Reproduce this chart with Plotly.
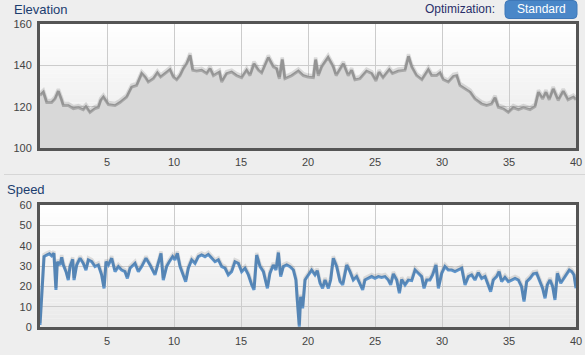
import plotly.graph_objects as go

# ---------------- data ----------------
elev_km = [0.0, 0.25, 0.5, 0.87, 1.12, 1.37, 1.62, 1.74, 2.11, 2.49, 2.86, 3.23, 3.43, 3.73, 4.10, 4.35,
           4.53, 4.73, 5.10, 5.60, 5.97, 6.47, 6.84, 7.21, 7.59, 7.84, 8.08, 8.46, 8.76, 9.00, 9.33, 9.70,
           9.95, 10.2, 10.45, 10.7, 10.95, 11.2, 11.4, 11.69, 12.06, 12.44, 12.69, 12.94, 13.39, 13.56,
           13.93, 14.3, 14.68, 15.05, 15.42, 15.67, 15.97, 16.3, 16.54, 17.04, 17.41, 17.66, 17.86, 18.08,
           18.28, 18.78, 19.28, 19.65, 20.0, 20.4, 20.57, 20.77, 21.02, 21.5, 21.89, 22.1, 22.64, 23.0,
           23.26, 23.5, 23.88, 24.37, 24.75, 25.07, 25.3, 25.6, 26.07, 26.3, 26.74, 27.24, 27.5, 27.74,
           28.1, 28.5, 28.98, 29.23, 29.6, 29.85, 30.1, 30.47, 30.85, 31.1, 31.34, 31.71, 32.1, 32.46,
           32.96, 33.33, 33.7, 33.96, 34.2, 34.58, 34.95, 35.32, 35.7, 36.07, 36.57, 36.94, 37.2, 37.51,
           37.76, 38.0, 38.3, 38.67, 39.05, 39.4, 39.8, 40.0]
elev_m = [125.4, 127.0, 122.0, 122.0, 123.7, 127.5, 123.0, 120.5, 120.5, 119.0, 119.5, 118.5, 120.0, 117.2,
          119.0, 119.5, 123.0, 124.6, 121.0, 120.5, 122.0, 124.6, 129.4, 130.2, 136.0, 134.3, 131.9, 133.5,
          136.3, 134.3, 136.0, 137.9, 134.3, 133.0, 135.0, 138.4, 140.8, 144.9, 137.6, 137.2, 137.6, 136.0,
          138.4, 135.0, 136.7, 131.9, 136.0, 136.7, 135.0, 134.0, 137.6, 135.0, 140.8, 137.6, 136.3, 143.8,
          139.2, 138.4, 133.5, 142.8, 133.5, 135.0, 137.2, 135.0, 134.3, 134.0, 142.8, 135.0, 139.2, 143.8,
          139.2, 135.0, 140.8, 135.0, 137.6, 133.0, 133.5, 137.2, 136.0, 132.4, 136.7, 134.0, 137.9, 136.0,
          137.2, 137.6, 144.4, 139.2, 135.0, 133.0, 137.9, 135.0, 135.0, 136.3, 133.0, 131.9, 134.6, 135.0,
          130.2, 128.6, 127.0, 123.7, 121.3, 120.5, 121.3, 124.3, 119.7, 118.9, 117.2, 119.5, 118.5, 119.5,
          118.5, 120.0, 127.0, 123.7, 127.0, 123.3, 128.6, 123.0, 127.5, 123.3, 124.6, 123.3]

speed_km = [0.0, 0.12, 0.30, 0.50, 0.70, 0.87, 1.04, 1.19, 1.29, 1.49, 1.62, 1.74, 1.94, 2.11, 2.24,
            2.44, 2.54, 2.74, 2.99, 3.23, 3.43, 3.61, 3.86, 4.10, 4.35, 4.60, 4.78, 4.93, 5.10, 5.35,
            5.60, 5.85, 6.09, 6.34, 6.52, 6.72, 7.09, 7.34, 7.59, 7.91, 8.21, 8.58, 8.83, 9.03, 9.20,
            9.45, 9.65, 9.90, 10.07, 10.25, 10.45, 10.70, 10.87, 11.07, 11.32, 11.57, 11.82, 12.06, 12.31,
            12.56, 12.81, 13.06, 13.31, 13.56, 13.81, 14.05, 14.30, 14.55, 14.80, 15.05, 15.30, 15.55,
            15.80, 15.97, 16.17, 16.42, 16.67, 16.97, 17.16, 17.41, 17.61, 17.79, 17.96, 18.16, 18.41,
            18.66, 18.91, 19.10, 19.20, 19.35, 19.45, 19.60, 19.78,
            20.02, 20.27, 20.52, 20.69, 20.90, 21.09, 21.27, 21.52, 21.69, 21.89, 22.14, 22.39, 22.59,
            22.89, 23.13, 23.38, 23.63, 23.88, 24.08, 24.25, 24.50, 24.75, 25.00, 25.25, 25.49, 25.74,
            25.99, 26.17, 26.37, 26.62, 26.82, 26.99, 27.24, 27.49, 27.74, 27.99, 28.23, 28.48, 28.66,
            28.86, 29.10, 29.30, 29.55, 29.73, 29.98, 30.22, 30.47, 30.72, 30.97, 31.22, 31.47, 31.72,
            31.97, 32.21, 32.46, 32.71, 32.96, 33.21, 33.46, 33.63, 33.83, 34.08, 34.26, 34.45, 34.70,
            34.95, 35.20, 35.45, 35.70, 35.94, 36.12, 36.32, 36.57, 36.82, 37.06, 37.31, 37.51, 37.69,
            37.86, 38.06, 38.26, 38.43, 38.61, 38.86, 39.10, 39.30, 39.50, 39.68, 39.85, 40.0]
speed_kmh = [1.0, 13.0, 34.6, 35.4, 36.0, 35.0, 36.2, 18.2, 32.0, 30.5, 34.3, 30.5, 27.2, 23.1, 29.7,
             33.3, 23.1, 30.5, 33.8, 31.3, 28.0, 33.0, 32.1, 29.7, 30.5, 25.6, 19.0, 32.1, 30.5, 33.8,
             27.2, 29.7, 28.0, 27.2, 23.9, 28.9, 31.3, 27.2, 29.7, 33.8, 30.5, 25.6, 31.3, 36.2, 23.1,
             29.7, 32.1, 34.6, 33.0, 36.2, 29.7, 25.6, 22.3, 28.9, 33.0, 31.3, 34.6, 35.4, 34.6,
             35.7, 33.8, 32.1, 33.0, 29.7, 28.9, 25.6, 27.2, 32.1, 31.3, 27.2, 28.9, 25.6,
             20.7, 18.2, 35.4, 29.7, 27.2, 19.0, 26.4, 30.5, 28.0, 36.6, 24.8, 29.7, 30.5,
             29.7, 28.0, 23.1, 13.3, 0.2, 14.9, 9.2, 23.1,
             25.6, 28.0, 25.6, 27.7, 21.5, 19.0, 23.1, 19.0, 23.1, 33.8, 29.7, 22.3, 20.7,
             30.5, 27.2, 23.1, 24.8, 21.5, 18.2, 23.1, 23.9, 24.8, 23.9, 24.8, 24.4, 24.8,
             23.1, 20.7, 26.1, 23.1, 16.6, 23.4, 20.7, 23.1, 22.8, 28.0, 26.4, 24.8, 19.0,
             23.1, 23.1, 25.6, 30.5, 19.0, 26.4, 29.7, 28.0, 28.0, 27.2, 28.0, 28.9, 20.7,
             24.8, 25.6, 23.1, 26.7, 23.9, 24.8, 20.7, 17.4, 23.1, 24.8, 27.2, 22.3, 24.4,
             22.3, 23.1, 23.9, 23.1, 19.8, 12.5, 22.3, 23.9, 26.1, 26.4, 22.3, 19.0, 14.1,
             20.7, 23.1, 19.8, 13.3, 26.4, 21.5, 23.9, 26.4, 28.0, 27.2, 25.6, 19.0]

x_ticks = [5, 10, 15, 20, 25, 30, 35, 40]
elev_ticks = [100, 120, 140, 160]
speed_ticks = [0, 10, 20, 30, 40, 50, 60]

# ---------------- layout geometry ----------------
W, H = 585, 355
def px(x):
    return x / W
def py(y):
    return 1 - y / H

xdom = [px(40), px(576)]
elev_dom = [py(148), py(24)]
speed_dom = [py(327), py(205)]

FONT = "Liberation Sans, Arial, sans-serif"
NAVY = "#1b3d6e"

fig = go.Figure()

# elevation shadow + area
fig.add_trace(go.Scatter(x=elev_km, y=elev_m, xaxis="x", yaxis="y3", mode="lines",
                         line=dict(color="rgba(0,0,0,0.12)", width=3.5), hoverinfo="skip"))
fig.add_trace(go.Scatter(x=elev_km, y=elev_m, xaxis="x", yaxis="y", mode="lines",
                         fill="tozeroy", fillcolor="#d8d8d8",
                         line=dict(color="#a9a9a9", width=2.8)))
# speed shadow + line
fig.add_trace(go.Scatter(x=speed_km, y=speed_kmh, xaxis="x2", yaxis="y4", mode="lines",
                         line=dict(color="rgba(0,0,0,0.11)", width=3.5), hoverinfo="skip"))
fig.add_trace(go.Scatter(x=speed_km, y=speed_kmh, xaxis="x2", yaxis="y2", mode="lines",
                         line=dict(color="#6096cc", width=3)))

axis_common = dict(showline=True, mirror=True, linecolor="#555555", linewidth=3,
                   showgrid=True, gridcolor="#cccccc", gridwidth=1, zeroline=False,
                   ticks="", tickfont=dict(family=FONT, size=11, color="#444444"),
                   fixedrange=True, automargin=False)

shapes = []
# plot-area gradient backgrounds
N = 30
for yref in ("y domain", "y2 domain"):
    xr = "x domain" if yref == "y domain" else "x2 domain"
    for i in range(N):
        t = (i + 0.5) / N
        c = int(round(255 - (255 - 233) * t))
        shapes.append(dict(type="rect", xref=xr, yref=yref, x0=0, x1=1,
                           y0=1 - (i + 1) / N, y1=1 - i / N + 0.001,
                           fillcolor=f"rgb({c},{c},{c})", line=dict(width=0), layer="below"))
# separator line
shapes.append(dict(type="line", xref="paper", yref="paper", x0=px(4), x1=1, y0=py(174.5), y1=py(174.5),
                   line=dict(color="#d6d6d6", width=1)))
# rounded button
bx0, bx1, by0, by1, r = 505, 577, 0.5, 18.5, 4
path = (f"M {px(bx0 + r)},{py(by0)} L {px(bx1 - r)},{py(by0)} Q {px(bx1)},{py(by0)} {px(bx1)},{py(by0 + r)} "
        f"L {px(bx1)},{py(by1 - r)} Q {px(bx1)},{py(by1)} {px(bx1 - r)},{py(by1)} "
        f"L {px(bx0 + r)},{py(by1)} Q {px(bx0)},{py(by1)} {px(bx0)},{py(by1 - r)} "
        f"L {px(bx0)},{py(by0 + r)} Q {px(bx0)},{py(by0)} {px(bx0 + r)},{py(by0)} Z")
shapes.append(dict(type="path", xref="paper", yref="paper", path=path,
                   fillcolor="#4a87c8", line=dict(color="#3f78b8", width=1)))

annotations = [
    dict(text="Elevation", x=px(12), y=py(10), xref="paper", yref="paper", xanchor="left", yanchor="middle",
         showarrow=False, font=dict(family=FONT, size=13, color=NAVY)),
    dict(text="Speed", x=px(5), y=py(190), xref="paper", yref="paper", xanchor="left", yanchor="middle",
         showarrow=False, font=dict(family=FONT, size=13, color=NAVY)),
    dict(text="Optimization:", x=px(497), y=py(9), xref="paper", yref="paper", xanchor="right", yanchor="middle",
         showarrow=False, font=dict(family=FONT, size=12, color="#2a2f6a")),
    dict(text="Standard", x=px(541), y=py(9.5), xref="paper", yref="paper", xanchor="center", yanchor="middle",
         showarrow=False, font=dict(family=FONT, size=12, color="#ffffff")),
]

fig.update_layout(
    width=W, height=H, margin=dict(l=0, r=0, t=0, b=0, pad=0, autoexpand=False),
    paper_bgcolor="#eeeeee", plot_bgcolor="#ffffff",
    showlegend=False, hovermode=False,
    xaxis=dict(domain=xdom, range=[0, 40], anchor="y", tickvals=x_ticks, ticklabelstandoff=2, **axis_common),
    yaxis=dict(domain=elev_dom, range=[100, 160], anchor="x", tickvals=elev_ticks, ticklabelstandoff=3,
               **axis_common),
    yaxis3=dict(overlaying="y", range=[99.0, 159.0], anchor="x", visible=False, fixedrange=True),
    xaxis2=dict(domain=xdom, range=[0, 40], anchor="y2", tickvals=x_ticks, ticklabelstandoff=2, **axis_common),
    yaxis2=dict(domain=speed_dom, range=[0, 60], anchor="x2", tickvals=speed_ticks, ticklabelstandoff=3,
                **axis_common),
    yaxis4=dict(overlaying="y2", range=[-1.0, 59.0], anchor="x2", visible=False, fixedrange=True),
    shapes=shapes, annotations=annotations,
)

fig.write_html("out.html")
